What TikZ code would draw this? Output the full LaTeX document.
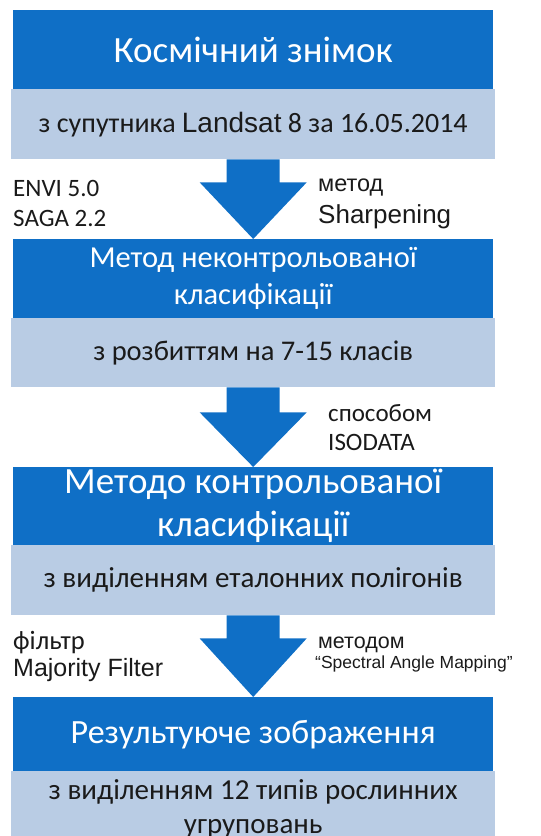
\documentclass[tikz,border=0pt]{standalone}
\usepackage{fontspec}
\setmainfont{Carlito}
\newfontfamily\arialf{Liberation Sans}
\usetikzlibrary{calc}
\definecolor{dblue}{HTML}{0F6FC6}
\definecolor{lblue}{HTML}{B9CCE4}
\definecolor{txt}{HTML}{1A1A1A}
\newcommand{\fs}[2]{\fontsize{#1}{#2}\selectfont}
\begin{document}
\begin{tikzpicture}[x=1pt,y=-1pt,
  dbox/.style={fill=dblue, draw=none, anchor=north west, inner sep=0pt, text=white, align=center},
  lbox/.style={fill=lblue, draw=none, anchor=north west, inner sep=0pt, text=txt, align=center},
  blockarrow/.style={fill=dblue, draw=none},
  lbl/.style={anchor=west, inner sep=0pt, text=txt}]
\useasboundingbox (0,0) rectangle (541,836);
% boxes
\node[lbox, minimum width=484pt, minimum height=70pt, font=\fs{28}{34}] (l1) at (11,89) {з супутника {\arialf Landsat} 8 за 16.05.2014};
\node[dbox, minimum width=480pt, minimum height=79pt, font=\fs{37}{44}] (d1) at (13,10) {Космічний знімок};
\node[lbox, minimum width=484pt, minimum height=69pt, font=\fs{28.5}{34}] (l2) at (11,318) {з розбиттям на 7-15 класів};
\node[dbox, minimum width=480pt, minimum height=79pt, font=\fs{30.5}{37}] (d2) at (13,239) {Метод неконтрольованої\\класифікації};
\node[lbox, minimum width=484pt, minimum height=70pt, font=\fs{29}{34}] (l3) at (11,545) {з виділенням еталонних полігонів};
\node[dbox, minimum width=480pt, minimum height=78pt, font=\fs{37}{43}] (d3) at (13,467) {Методо контрольованої\\класифікації};
\node[lbox, minimum width=484pt, minimum height=76pt, font=\fs{29}{34}] (l4) at (11,771) {з виділенням 12 типів рослинних\\угруповань};
\node[dbox, minimum width=480pt, minimum height=74pt, font=\fs{34}{40}] (d4) at (13,697) {Результуюче зображення};
% block arrows
\foreach \a/\b/\h in {l1/d2/23, l2/d3/25, l3/d4/23}{
  \fill[blockarrow] ($(\a.south)+(-26.5,0)$) -- ($(\a.south)+(26.5,0)$)
    -- ($(\a.south)+(26.5,\h)$) -- ($(\a.south)+(53.5,\h)$) -- (\b.north)
    -- ($(\a.south)+(-53.5,\h)$) -- ($(\a.south)+(-26.5,\h)$) -- cycle;
}
% side labels
\node[lbl, font=\fs{25}{30}] (t1) at (13,188) {ENVI 5.0};
\node[lbl, font=\fs{25}{30}] (t2) at (13,218) {SAGA 2.2};
\node[lbl, font=\arialf\fs{23.5}{28}] (t3) at (318,188) {метод};
\node[lbl, font=\arialf\fs{26}{31}] (t4) at (318,217) {Sharpening};
\node[lbl, font=\fs{25}{30}] (t5) at (328,413) {способом};
\node[lbl, font=\fs{25}{30}] (t6) at (328,442) {ISODATA};
\node[lbl, font=\fs{26.5}{31}] (t7) at (13,643) {фільтр};
\node[lbl, font=\arialf\fs{25}{30}] (t8) at (13,670) {Majority Filter};
\node[lbl, font=\arialf\fs{21.5}{26}] (t9) at (318,645) {методом};
\node[lbl, font=\arialf\fs{17.5}{21}] (t10) at (315,664) {“Spectral Angle Mapping”};
\end{tikzpicture}
\end{document}
